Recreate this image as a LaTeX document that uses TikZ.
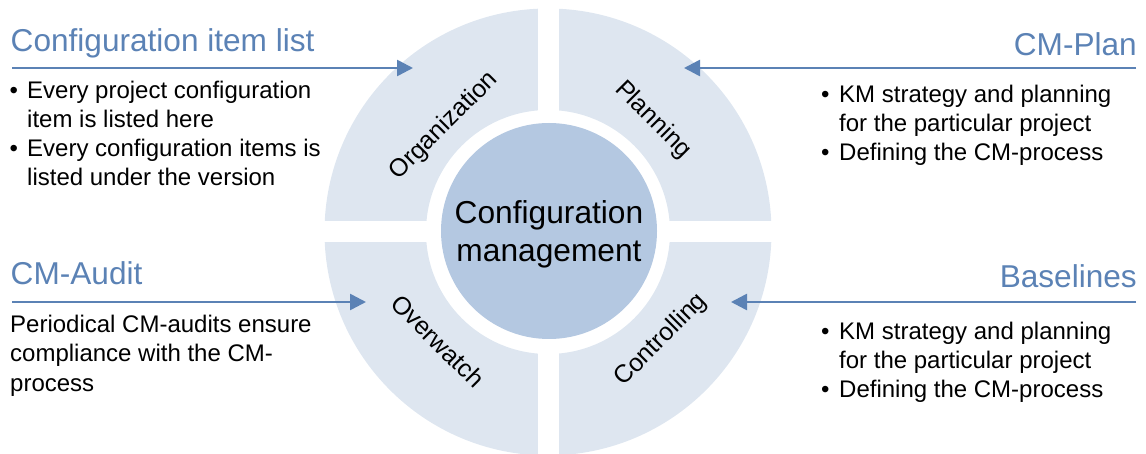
\documentclass[tikz,border=0pt]{standalone}
\usepackage{fontspec}
\setmainfont{Liberation Sans}
\usetikzlibrary{arrows.meta}
\definecolor{ringc}{RGB}{222,230,240}
\definecolor{corec}{RGB}{180,200,225}
\definecolor{accent}{RGB}{91,130,181}
\begin{document}
\begin{tikzpicture}[x=1pt,y=-1pt,
  title/.style={inner sep=0pt, text=accent, font=\fontsize{31.6}{38}\selectfont},
  body/.style={inner sep=0pt, font=\fontsize{24}{29}\selectfont},
  lbl/.style={inner sep=0pt, font=\fontsize{25}{30}\selectfont},
  core/.style={inner sep=0pt, font=\fontsize{31.7}{38}\selectfont},
  pointer/.style={draw=accent, line width=2.6pt, -{Triangle[length=16pt,width=16pt]}},
]
\useasboundingbox (0,0) rectangle (1146,454);
% ring with four sectors
\fill[ringc, even odd rule] (548,232) circle[radius=223.5pt] (548,232) circle[radius=122pt];
\fill[white] (537.5,0) rectangle (558.5,454);
\fill[white] (300,221.5) rectangle (800,242.5);
% centre circle
\fill[corec] (549,231) circle[radius=108pt];
\node[core, anchor=base] (c1) at (549,224) {Configuration};
\node[core, anchor=base] (c2) at (549,262) {management};
% sector labels
\node[lbl, rotate=45] (org) at (444,126) {Organization};
\node[lbl, rotate=-45] (pla) at (653,120) {Planning};
\node[lbl, rotate=-45] (ove) at (438,341) {Overwatch};
\node[lbl, rotate=45] (con) at (661,340) {Controlling};
% titles
\node[title, anchor=base west] (t1) at (10.5,52) {Configuration item list};
\node[title, anchor=base east] (t2) at (1137,56) {CM-Plan};
\node[title, anchor=base west] (t3) at (10.5,285) {CM-Audit};
\node[title, anchor=base east] (t4) at (1137,288) {Baselines};
% arrows
\coordinate (a1s) at (12,68);   \coordinate (a1e) at (413,68);
\coordinate (a2s) at (1136,68); \coordinate (a2e) at (684,68);
\coordinate (a3s) at (12,302);  \coordinate (a3e) at (366,302);
\coordinate (a4s) at (1136,302);\coordinate (a4e) at (731,302);
\draw[pointer] (a1s) -- (a1e);
\draw[pointer] (a2s) -- (a2e);
\draw[pointer] (a3s) -- (a3e);
\draw[pointer] (a4s) -- (a4e);
% top-left block
\node[body, anchor=base west] (tlb1) at (9.5,99) {•};
\node[body, anchor=base west] (tl1) at (27,99) {Every project configuration};
\node[body, anchor=base west] (tl2) at (27,128) {item is listed here};
\node[body, anchor=base west] (tlb2) at (9.5,157) {•};
\node[body, anchor=base west] (tl3) at (27,157) {Every configuration items is};
\node[body, anchor=base west] (tl4) at (27,186) {listed under the version};
% top-right block
\node[body, anchor=base west] (trb1) at (821,103) {•};
\node[body, anchor=base west] (tr1) at (839,103) {KM strategy and planning};
\node[body, anchor=base west] (tr2) at (839,132) {for the particular project};
\node[body, anchor=base west] (trb2) at (821,161) {•};
\node[body, anchor=base west] (tr3) at (839,161) {Defining the CM-process};
% bottom-left block
\node[body, anchor=base west] (bl1) at (10,333) {Periodical CM-audits ensure};
\node[body, anchor=base west] (bl2) at (10,362) {compliance with the CM-};
\node[body, anchor=base west] (bl3) at (10,391) {process};
% bottom-right block
\node[body, anchor=base west] (brb1) at (821,339) {•};
\node[body, anchor=base west] (br1) at (839,339) {KM strategy and planning};
\node[body, anchor=base west] (br2) at (839,368) {for the particular project};
\node[body, anchor=base west] (brb2) at (821,397) {•};
\node[body, anchor=base west] (br3) at (839,397) {Defining the CM-process};
\end{tikzpicture}
\end{document}
